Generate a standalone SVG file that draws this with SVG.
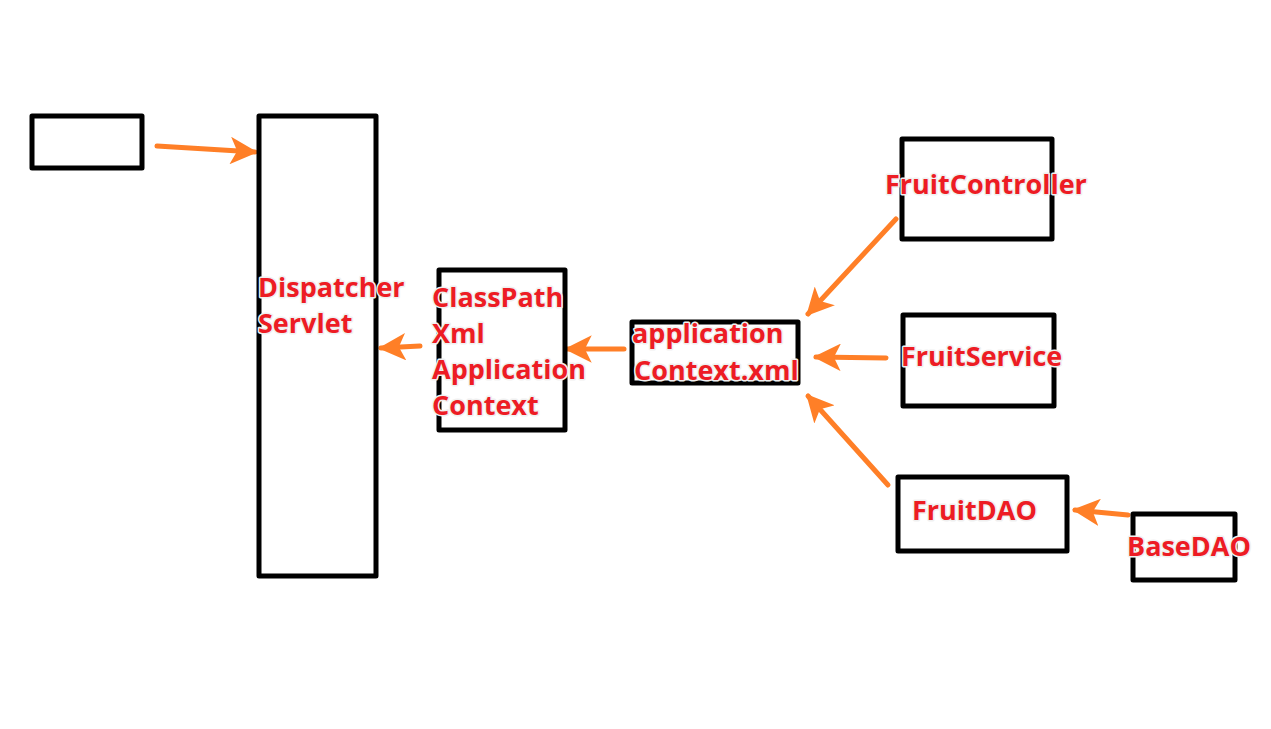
<svg xmlns="http://www.w3.org/2000/svg" width="1271" height="729" viewBox="0 0 1271 729">
<style>
.box{fill:none;stroke:#000;stroke-width:5;stroke-linejoin:round}
.lbl{font-family:"Open Sans","Noto Sans",sans-serif;font-weight:bold;font-size:27px;fill:#ed1c24;stroke:#f0f0f0;stroke-width:3;paint-order:stroke;stroke-linejoin:round}
.arr{fill:none;stroke:#ff7f27;stroke-width:5;stroke-linecap:round;marker-end:url(#ah)}
</style>
<defs>
<marker id="ah" viewBox="0 0 10 10" refX="9" refY="5" markerWidth="5.5" markerHeight="5.5" orient="auto" markerUnits="strokeWidth">
<path d="M0,0 L10,5 L0,10 L2.5,5 z" fill="#ff7f27"/>
</marker>
</defs>
<rect width="1271" height="729" fill="#fff"/>
<g id="connectors">
<line class="arr" x1="157" y1="146" x2="255" y2="152"/>
<line class="arr" x1="420" y1="346" x2="381" y2="348"/>
<line class="arr" x1="624" y1="349" x2="567" y2="349"/>
<line class="arr" x1="896" y1="219" x2="808" y2="314"/>
<line class="arr" x1="886" y1="358" x2="816" y2="357"/>
<line class="arr" x1="888" y1="485" x2="808" y2="396"/>
<line class="arr" x1="1128" y1="515" x2="1075" y2="510"/>
</g>
<g id="node-client"><rect class="box" x="32" y="116" width="110" height="52"/></g>
<g id="node-dispatcher"><rect class="box" x="259" y="116" width="117" height="460"/>
<text class="lbl" x="258" y="297">Dispatcher</text><text class="lbl" x="258" y="333">Servlet</text></g>
<g id="node-classpath"><rect class="box" x="439" y="270" width="126" height="160"/>
<text class="lbl" x="432" y="307">ClassPath</text><text class="lbl" x="432" y="343">Xml</text><text class="lbl" x="432" y="379">Application</text><text class="lbl" x="432" y="415">Context</text></g>
<g id="node-appctx"><rect class="box" x="632" y="322" width="166" height="61"/>
<text class="lbl" x="632" y="343">application</text><text class="lbl" x="634" y="380">Context.xml</text></g>
<g id="node-controller"><rect class="box" x="902" y="139" width="150" height="100"/>
<text class="lbl" x="885" y="194">FruitController</text></g>
<g id="node-service"><rect class="box" x="903" y="315" width="151" height="91"/>
<text class="lbl" x="901" y="366">FruitService</text></g>
<g id="node-dao"><rect class="box" x="898" y="477" width="169" height="74"/>
<text class="lbl" x="912" y="520">FruitDAO</text></g>
<g id="node-basedao"><rect class="box" x="1133" y="514" width="102" height="66"/>
<text class="lbl" x="1127" y="556">BaseDAO</text></g>
</svg>
